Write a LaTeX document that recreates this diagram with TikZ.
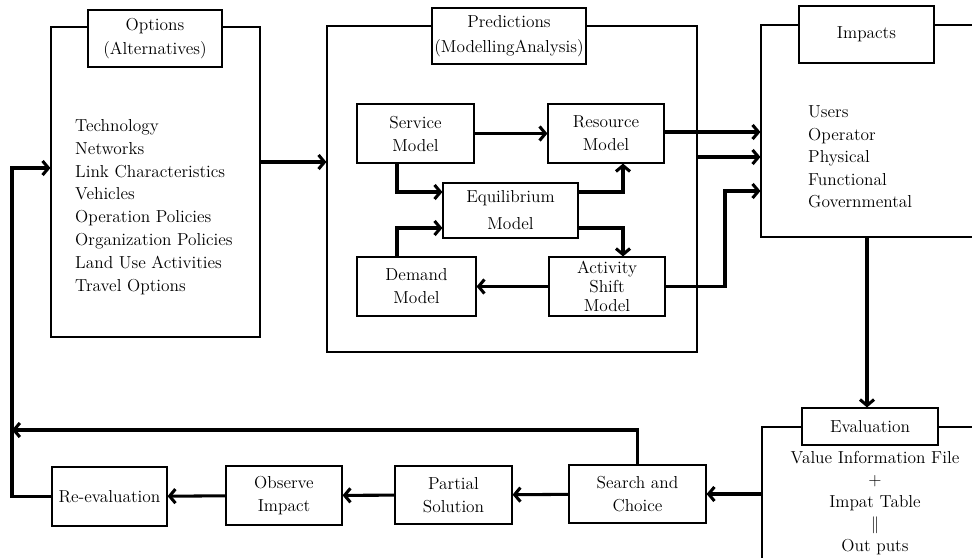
\documentclass[tikz,border=0pt]{standalone}
\usetikzlibrary{fit,arrows.meta}
\begin{document}
\begin{tikzpicture}[x=0.03cm,y=-0.03cm,
  every node/.style={font=\fontsize{14.8}{19.6}\selectfont},
  box/.style={draw,line width=1pt,inner sep=0pt,align=center},
  tbox/.style={box,fill=white},
  bigbox/.style={draw,line width=1pt,inner sep=0pt},
  conn/.style={line width=2.6pt,-{Straight Barb[length=5pt,width=12pt]}},
  listtxt/.style={align=left,anchor=west,inner sep=0pt}]
\useasboundingbox (0,0) rectangle (972,558);
% helper coordinates
\coordinate (fbtop) at (12,168);
\coordinate (fbmid) at (12,430);
\coordinate (pa) at (0,162);
\coordinate (sv) at (397,0);
\coordinate (ey1) at (0,192);
\coordinate (ey2) at (0,228);
\coordinate (rx) at (623,0);
\coordinate (iy1) at (0,132);
\coordinate (iy2) at (0,157);
\coordinate (iy3) at (0,191);
\coordinate (ix) at (725,0);
\coordinate (ex) at (867,0);
% Options
\node[bigbox,fit={(51,27) (260,337)}] (options) {};
\node[tbox,minimum width=4.02cm,minimum height=1.71cm,font=\fontsize{14.8}{20.4}\selectfont] (optt) at (155,38.5) {Options\\(Alternatives)};
\node[listtxt,font=\fontsize{14.8}{19.5}\selectfont] (optlist) at (75,207) {Technology\\Networks\\Link Characteristics\\Vehicles\\Operation Policies\\Organization Policies\\Land Use Activities\\Travel Options};
% Predictions
\node[bigbox,fit={(327,26) (697,352)}] (pred) {};
\node[tbox,minimum width=4.62cm,minimum height=1.68cm,font=\fontsize{14.8}{21}\selectfont] (predt) at (509,36) {Predictions\\(ModellingAnalysis)};
\node[box,minimum width=3.51cm,minimum height=1.77cm] (service) at (415.5,133.5) {Service\\Model};
\node[box,minimum width=3.48cm,minimum height=1.77cm] (resource) at (606,133.5) {Resource\\Model};
\node[box,minimum width=4.05cm,minimum height=1.65cm,font=\fontsize{14.8}{23}\selectfont] (equil) at (510.5,210.5) {Equilibrium\\Model};
\node[box,minimum width=3.57cm,minimum height=1.77cm] (demand) at (416.5,286.5) {Demand\\Model};
\node[box,minimum width=3.48cm,minimum height=1.77cm,font=\fontsize{14.8}{16}\selectfont] (activity) at (607,286.5) {Activity\\Shift\\Model};
% Impacts
\node[bigbox,fit={(761,25) (1000,237)}] (impacts) {};
\node[tbox,minimum width=4.05cm,minimum height=1.71cm] (impt) at (866.5,34.5) {Impacts};
\node[listtxt,font=\fontsize{14.8}{19.1}\selectfont] (implist) at (808,157) {Users\\Operator\\Physical\\Functional\\Governmental};
% Evaluation
\node[bigbox,fit={(762,427) (1000,600)}] (evalbox) {};
\node[tbox,minimum width=4.08cm,minimum height=1.11cm] (evalt) at (870,426.5) {Evaluation};
\node[align=center,inner sep=0pt,font=\fontsize{14.8}{18.9}\selectfont] (evallist) at (875,503) {Value Information File\\+\\Impat Table\\$\|$\\Out puts};
% Bottom row
\node[box,minimum width=4.11cm,minimum height=1.74cm] (search) at (637.5,494) {Search and\\Choice};
\node[box,minimum width=3.51cm,minimum height=1.74cm] (partial) at (453.5,495) {Partial\\Solution};
\node[box,minimum width=3.48cm,minimum height=1.77cm] (observe) at (284,495.5) {Observe\\Impact};
\node[box,minimum width=3.45cm,minimum height=1.77cm] (reeval) at (109.5,496.5) {Re-evaluation};
% connectors
\draw[conn] (options.east |- pa) -- (pred.west |- pa);
\draw[conn] (service) -- (resource);
\draw[conn] (service.south -| sv) |- (equil.west |- ey1);
\draw[conn] (demand.north -| sv) |- (equil.west |- ey2);
\draw[conn] (equil.east |- ey1) -| (resource.south -| rx);
\draw[conn] (equil.east |- ey2) -| (activity.north -| rx);
\draw[conn] (activity) -- (demand);
\draw[conn] (resource.east |- iy1) -- (impacts.west |- iy1);
\draw[conn] (pred.east |- iy2) -- (impacts.west |- iy2);
\draw[conn] (activity.east) -| (ix |- iy3) -- (impacts.west |- iy3);
\draw[conn] (impacts.south -| ex) -- (evalt.north -| ex);
\draw[conn] (evalbox.west |- search) -- (search);
\draw[conn] (search) -- (partial);
\draw[conn] (partial) -- (observe);
\draw[conn] (observe) -- (reeval);
\draw[conn] (search.north) |- (fbmid);
\draw[conn] (reeval.west) -- (reeval.west -| fbtop) -- (fbtop) -- (options.west |- fbtop);
\end{tikzpicture}
\end{document}
